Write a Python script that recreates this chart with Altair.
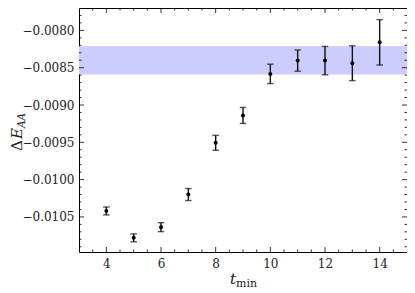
import altair as alt
import pandas as pd

# ---- data ----
t_min = [4, 5, 6, 7, 8, 9, 10, 11, 12, 13, 14]
dE = [-0.01042, -0.01078, -0.010637, -0.01020, -0.009507, -0.00914,
      -0.008583, -0.008405, -0.008405, -0.00844, -0.00816]
dE_err = [0.000053, 0.000053, 0.00006, 0.00008, 0.0001, 0.000107,
          0.00013, 0.000142, 0.00019, 0.000233, 0.000304]
band_lo = -0.00859
band_hi = -0.008213

x_major = [4, 6, 8, 10, 12, 14]
x_minor = [3.5, 4.5, 5, 5.5, 6.5, 7, 7.5, 8.5, 9, 9.5, 10.5, 11, 11.5,
           12.5, 13, 13.5, 14.5]
y_major = [-0.0080, -0.0085, -0.0090, -0.0095, -0.0100, -0.0105]
y_minor = [-0.0078, -0.0079, -0.0081, -0.0082, -0.0083, -0.0084, -0.0086,
           -0.0087, -0.0088, -0.0089, -0.0091, -0.0092, -0.0093, -0.0094,
           -0.0096, -0.0097, -0.0098, -0.0099, -0.0101, -0.0102, -0.0103,
           -0.0104, -0.0106, -0.0107, -0.0108, -0.0109]

x_domain = [3, 15]
y_domain = [-0.01097, -0.00770]

W, H = 328, 244
FONT = "DejaVu Serif"

df = pd.DataFrame({"t": t_min, "E": dE, "err": dE_err})
df["lo"] = df["E"] - df["err"]
df["hi"] = df["E"] + df["err"]

xscale = alt.Scale(domain=x_domain, nice=False, zero=False)
yscale = alt.Scale(domain=y_domain, nice=False, zero=False)
xaxis = alt.Axis(values=x_major, ticks=False, domain=False, grid=False,
                 labelFont=FONT, labelFontSize=12, labelPadding=6,
                 labelColor="#222222", title=None)
yaxis = alt.Axis(values=y_major, format=".4f", ticks=False, domain=False,
                 grid=False, labelFont=FONT, labelFontSize=12, labelPadding=5,
                 labelColor="#222222", title=None)


def X(field):
    return alt.X(field, type="quantitative", scale=xscale, axis=xaxis)


def Y(field):
    return alt.Y(field, type="quantitative", scale=yscale, axis=yaxis)


band = alt.Chart(pd.DataFrame({"lo": [band_lo], "hi": [band_hi]})).mark_rect(
    color="#ccccff", opacity=1
).encode(x=alt.value(0), x2=alt.value(W), y=Y("lo"), y2=alt.Y2("hi"))

bars = alt.Chart(df).mark_rule(color="#111111", strokeWidth=1.4).encode(
    x=X("t"), y=Y("lo"), y2=alt.Y2("hi"))
cap_lo = alt.Chart(df).mark_tick(color="#111111", orient="horizontal",
                                 size=6.5, thickness=1.4).encode(x=X("t"), y=Y("lo"))
cap_hi = alt.Chart(df).mark_tick(color="#111111", orient="horizontal",
                                 size=6.5, thickness=1.4).encode(x=X("t"), y=Y("hi"))
pts = alt.Chart(df).mark_circle(color="black", size=16, opacity=1).encode(
    x=X("t"), y=Y("E"))

# inside ticks on all four sides
def xticks(vals, L):
    d = alt.Chart(pd.DataFrame({"v": vals}))
    b = d.mark_rule(color="black", strokeWidth=0.8).encode(
        x=X("v"), y=alt.value(H), y2=alt.value(H - L))
    t = d.mark_rule(color="black", strokeWidth=0.8).encode(
        x=X("v"), y=alt.value(0), y2=alt.value(L))
    return [b, t]


def yticks(vals, L):
    d = alt.Chart(pd.DataFrame({"v": vals}))
    l = d.mark_rule(color="black", strokeWidth=0.8).encode(
        y=Y("v"), x=alt.value(0), x2=alt.value(L))
    r = d.mark_rule(color="black", strokeWidth=0.8).encode(
        y=Y("v"), x=alt.value(W), x2=alt.value(W - L))
    return [l, r]


tick_layers = xticks(x_major, 5) + xticks(x_minor, 2.5) + \
    yticks(y_major, 5) + yticks(y_minor, 2.5)

# axis titles as text
def txt(s, x, y, size, style="normal", angle=0, align="left"):
    return alt.Chart(pd.DataFrame({"s": [s]})).mark_text(
        font=FONT, fontSize=size, fontStyle=style, angle=angle, align=align,
        baseline="alphabetic", color="#222222"
    ).encode(text="s:N", x=alt.value(x), y=alt.value(y))


xt0 = 151
titles = [
    txt("t", xt0, 276, 15, "italic"),
    txt("min", xt0 + 6, 279, 11),
    txt("Δ", -57, 143, 15, angle=270),
    txt("E", -57, 131, 15, "italic", angle=270),
    txt("AA", -54, 120, 10.5, "italic", angle=270),
]

chart = alt.layer(band, bars, cap_lo, cap_hi, pts, *tick_layers, *titles).properties(
    width=W, height=H,
    autosize=alt.AutoSizeParams(type="none"),
    padding={"left": 71, "top": 0, "right": 0, "bottom": 41},
).configure_view(stroke="black", strokeWidth=1)

chart.save("out.html", embed_options={"renderer": "svg", "actions": False})
